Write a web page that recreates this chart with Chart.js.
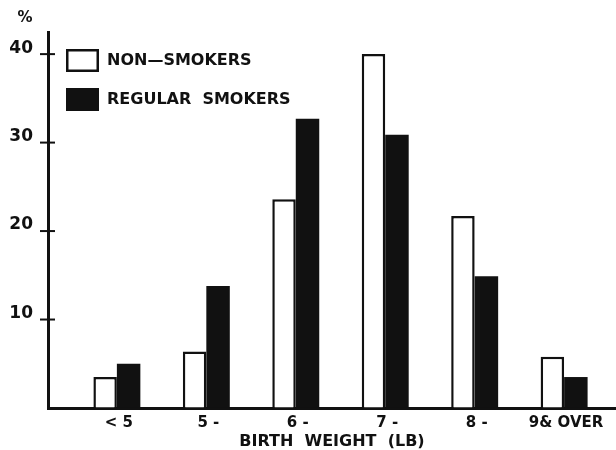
<!DOCTYPE html>
<html>
<head>
<meta charset="utf-8">
<script src="https://cdn.jsdelivr.net/npm/chart.js@4/dist/chart.umd.min.js"></script>
<style>
  body { margin: 0; background: #fff; }
  #wrap { width: 616px; height: 450px; }
</style>
</head>
<body>
<div id="wrap"><canvas id="chart" width="616" height="450"></canvas></div>
<script>
const categories = ['< 5', '5 -', '6 -', '7 -', '8 -', '9& OVER'];
const nonSmokers = [3.5, 6.4, 23.6, 40.0, 21.7, 5.8];
const regularSmokers = [5.0, 13.8, 32.7, 30.9, 14.9, 3.5];
const yTicks = [0, 10, 20, 30, 40];

const INK = '#111';
const FONT = '"DejaVu Sans", sans-serif';

// legend, unit sign and cross-shaped y ticks, drawn like the hand-lettered original
const paperMarks = {
    id: 'paperMarks',
    afterDraw(chart) {
        const { ctx, chartArea, scales: { y } } = chart;
        ctx.save();
        ctx.strokeStyle = INK;
        ctx.lineWidth = 2;
        y.ticks.forEach(t => {
            if (t.value === 0) return;
            const py = y.getPixelForValue(t.value);
            ctx.beginPath();
            ctx.moveTo(chartArea.left - 8, py);
            ctx.lineTo(chartArea.left + 7, py);
            ctx.stroke();
        });

        ctx.fillStyle = INK;
        ctx.font = 'bold 15px ' + FONT;
        ctx.textAlign = 'center';
        ctx.textBaseline = 'middle';
        ctx.fillText('%', chartArea.left - 23, chartArea.top - 14);

        ctx.font = 'bold 16px ' + FONT;
        ctx.textAlign = 'left';
        chart.data.datasets.forEach((ds, i) => {
            const bx = chartArea.left + 18;
            const by = chartArea.top + 17 + i * 39;
            ctx.fillStyle = ds.backgroundColor;
            ctx.fillRect(bx, by, 33, 23);
            if (ds.borderWidth) {
                ctx.lineWidth = ds.borderWidth;
                ctx.strokeStyle = ds.borderColor;
                ctx.strokeRect(bx + 1.25, by + 1.25, 33 - 2.5, 23 - 2.5);
            }
            ctx.fillStyle = INK;
            ctx.fillText(ds.label, bx + 41, by + 12);
        });
        ctx.restore();
    }
};

new Chart(document.getElementById('chart'), {
    type: 'bar',
    data: {
        datasets: [{
            label: 'NON—SMOKERS',
            data: nonSmokers.map((v, i) => ({ x: i, y: v })),
            backgroundColor: '#fff',
            borderColor: INK,
            borderWidth: 2.5
        }, {
            label: 'REGULAR  SMOKERS',
            data: regularSmokers.map((v, i) => ({ x: i, y: v })),
            backgroundColor: INK,
            borderWidth: 0
        }]
    },
    options: {
        responsive: false,
        animation: false,
        layout: { padding: { top: 32, left: 0, right: 0, bottom: 0 } },
        datasets: {
            bar: { categoryPercentage: 0.525, barPercentage: 1.0 }
        },
        plugins: {
            legend: { display: false },
            tooltip: { enabled: false }
        },
        scales: {
            x: {
                type: 'linear',
                min: -0.77,
                max: 5.58,
                offset: false,
                afterBuildTicks: (scale) => {
                    scale.ticks = categories.map((c, i) => ({ value: i }));
                },
                afterFit: (scale) => { scale.height = 42; },
                grid: { display: true, drawOnChartArea: false, drawTicks: false },
                border: { display: true, color: INK, width: 3 },
                ticks: {
                    autoSkip: false,
                    maxRotation: 0,
                    padding: 8,
                    labelOffset: 2,
                    color: INK,
                    font: { family: FONT, size: 15, weight: 'bold', lineHeight: 1 },
                    callback: (value) => categories[value]
                },
                title: {
                    display: true,
                    text: 'BIRTH  WEIGHT  (LB)',
                    color: INK,
                    font: { family: FONT, size: 16, weight: 'bold', lineHeight: 1 },
                    padding: { top: 3, bottom: 0 }
                }
            },
            y: {
                min: 0,
                max: 42.5,
                afterBuildTicks: (scale) => {
                    scale.ticks = yTicks.map(v => ({ value: v }));
                },
                afterFit: (scale) => { scale.width = 48; },
                grid: { display: true, drawOnChartArea: false, drawTicks: false },
                border: { display: true, color: INK, width: 3 },
                ticks: {
                    padding: 15,
                    labelOffset: -6,
                    color: INK,
                    font: { family: FONT, size: 17, weight: 'bold' },
                    callback: (v) => v === 0 ? '' : v
                }
            }
        }
    },
    plugins: [paperMarks]
});
</script>
</body>
</html>
